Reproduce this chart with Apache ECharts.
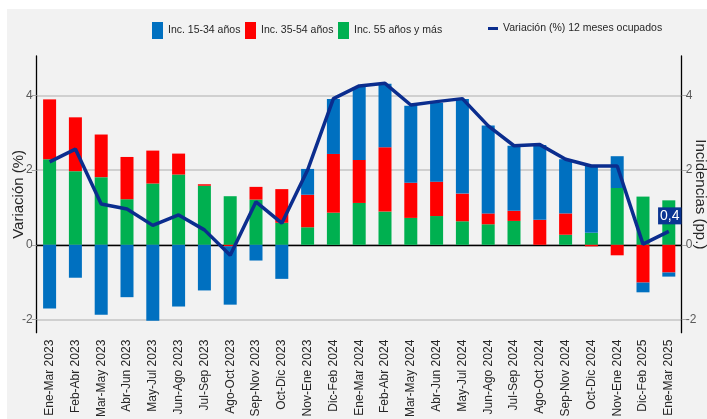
<!DOCTYPE html>
<html>
<head>
<meta charset="utf-8">
<script src="https://cdn.jsdelivr.net/npm/echarts@6/dist/echarts.min.js"></script>
<style>
  html, body { margin:0; padding:0; background:#ffffff; width:707px; height:419px; overflow:hidden; }
  #chart { position:absolute; left:7px; top:9px; width:700px; height:410px; }
</style>
</head>
<body>
<div id="chart"></div>
<script>
const categories = ['Ene-Mar 2023','Feb-Abr 2023','Mar-May 2023','Abr-Jun 2023','May-Jul 2023','Jun-Ago 2023','Jul-Sep 2023','Ago-Oct 2023','Sep-Nov 2023','Oct-Dic 2023','Nov-Ene 2023','Dic-Feb 2024','Ene-Mar 2024','Feb-Abr 2024','Mar-May 2024','Abr-Jun 2024','May-Jul 2024','Jun-Ago 2024','Jul-Sep 2024','Ago-Oct 2024','Sep-Nov 2024','Oct-Dic 2024','Nov-Ene 2024','Dic-Feb 2025','Ene-Mar 2025'];
const inc15_34 = [-1.70,-0.88,-1.87,-1.40,-2.03,-1.65,-1.22,-1.56,-0.42,-0.91,0.69,1.47,1.95,1.70,2.06,2.11,2.53,2.35,1.74,2.00,1.45,1.79,0.85,-0.26,-0.11];
const inc35_54 = [1.60,1.44,1.14,1.13,0.88,0.56,0.04,-0.04,0.34,0.90,0.87,1.57,1.15,1.72,0.94,0.92,0.74,0.29,0.27,0.67,0.57,-0.04,-0.28,-1.01,-0.74];
const inc55 = [2.29,1.97,1.81,1.22,1.64,1.88,1.58,1.30,1.21,0.59,0.47,0.86,1.12,0.89,0.72,0.77,0.63,0.55,0.64,0,0.27,0.32,1.52,1.29,1.19];
const variacion = [2.22,2.56,1.09,0.96,0.52,0.80,0.40,-0.28,1.15,0.58,2.00,3.91,4.25,4.32,3.74,3.83,3.91,3.18,2.65,2.68,2.29,2.11,2.11,0.02,0.36];
const yTicks = [-2,0,2,4];

const FONT = "'Liberation Sans', Arial, sans-serif";
const cBlue = '#0070C0', cRed = '#FF0000', cGreen = '#00B050', cLine = '#0B2D8E';

const chart = echarts.init(document.getElementById('chart'), null, {renderer:'canvas'});

const yAxisBase = (pos) => ({
  type:'value', position:pos, min:-2.35, max:5.05,
  axisLine:{show:true, lineStyle:{color:'#000', width:1.3}},
  axisTick:{show:true, customValues:yTicks, length:5, lineStyle:{color:'#a6a6a6', width:1}},
  axisLabel:{customValues:yTicks, color:'#595959', fontSize:12, fontFamily:FONT, margin:4},
  splitLine:{show:pos==='left', lineStyle:{color:'#c4c4c4', width:1.5}},
  nameLocation:'middle',
  nameMoveOverlap:false,
  nameTextStyle:{fontSize:15, color:'#262626', fontFamily:FONT}
});

const lineData = variacion.map((v,i) => i === variacion.length-1 ? {
  value:v,
  label:{show:true, position:'top', distance:7, offset:[1,0],
    formatter:(p)=>p.value.toFixed(1).replace('.',','),
    color:'#fff', backgroundColor:'#0B3592', padding:[2,2,1,2],
    fontSize:14, fontFamily:FONT}
} : v);

const legendText = {fontSize:10.5, color:'#262626', fontFamily:FONT};
const barLegend = (name, left) => ({
  data:[name], left:left, top:8, itemWidth:11, itemHeight:17, itemGap:0,
  icon:'rect', textStyle:legendText
});

chart.setOption({
  backgroundColor:'#f2f2f2',
  animation:false,
  textStyle:{fontFamily:FONT},
  grid:{left:29.7, right:25.3, top:47, bottom:86.3, containLabel:false, outerBoundsMode:'none'},
  legend:[
    barLegend('Inc. 15-34 años', 140),
    barLegend('Inc. 35-54 años', 233),
    barLegend('Inc. 55 años y más', 326),
    {data:['Variación (%) 12 meses ocupados'],
     left:476, top:9, itemWidth:10, itemHeight:3, icon:'rect',
     textStyle:legendText}
  ],
  xAxis:{
    type:'category', data:categories,
    axisLine:{lineStyle:{color:'#000', width:1.3}},
    axisTick:{alignWithLabel:true, length:4, lineStyle:{color:'#000'}},
    axisLabel:{rotate:90, fontSize:12, color:'#262626', fontFamily:FONT, margin:7, interval:0},
    splitLine:{show:false}
  },
  yAxis:[
    Object.assign(yAxisBase('left'), {name:'Variación (%)', nameGap:10}),
    Object.assign(yAxisBase('right'), {name:'Incidencias (pp.)', nameGap:11, nameRotate:-90})
  ],
  series:[
    {name:'Inc. 55 años y más', type:'bar', stack:'inc', data:inc55, barWidth:13, itemStyle:{color:cGreen}},
    {name:'Inc. 35-54 años', type:'bar', stack:'inc', data:inc35_54, barWidth:13, itemStyle:{color:cRed}},
    {name:'Inc. 15-34 años', type:'bar', stack:'inc', data:inc15_34, barWidth:13, itemStyle:{color:cBlue}},
    {name:'Variación (%) 12 meses ocupados', type:'line', data:lineData,
     symbol:'circle', symbolSize:0, showSymbol:true, showAllSymbol:true, z:5,
     lineStyle:{color:cLine, width:3.5}, itemStyle:{color:cLine}}
  ]
});
</script>
</body>
</html>
